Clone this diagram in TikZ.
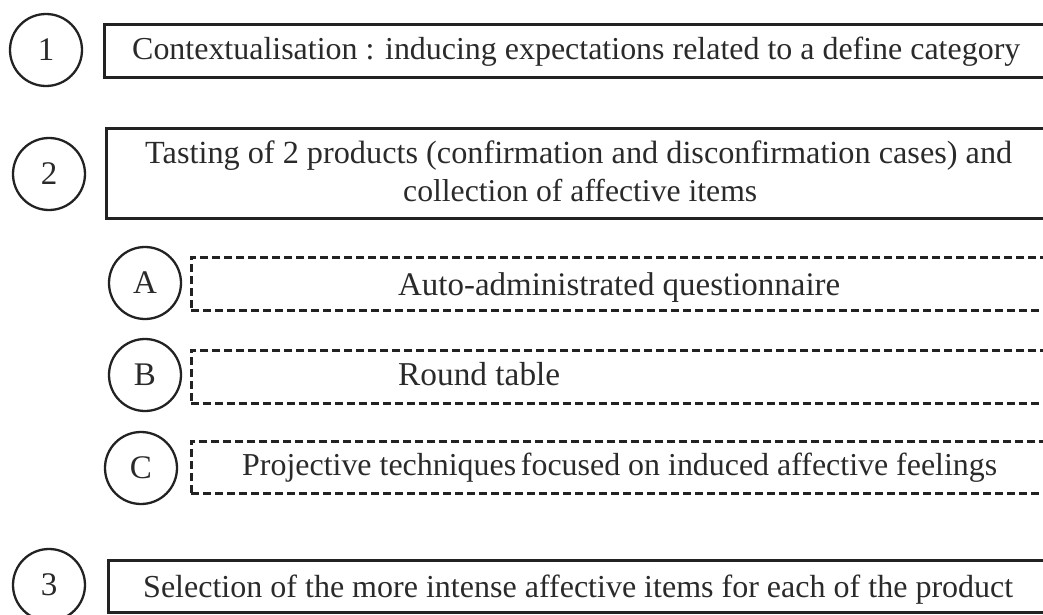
\documentclass[tikz,border=0pt]{standalone}
\usepackage{fontspec}
\usepackage{graphicx}
\setmainfont{Liberation Serif}
\definecolor{ink}{HTML}{222222}
\definecolor{txt}{HTML}{2a2a2a}
\newcommand{\fitw}[2]{\resizebox{#1}{!}{#2}}
\begin{document}
\begin{tikzpicture}[x=1pt,y=-1pt,
  numcirc/.style={circle,draw=ink,line width=2.3pt,minimum size=72pt,inner sep=0pt,text=txt,font=\fontsize{33}{34}\selectfont},
  solidbox/.style={rectangle,draw=ink,line width=2.7pt,anchor=north west,inner sep=0pt},
  dashbox/.style={rectangle,draw=ink,line width=2.5pt,dash pattern=on 8pt off 4pt,anchor=north west,inner sep=0pt},
  lbl/.style={anchor=base west,inner sep=0pt,text=txt,font=\fontsize{30}{33}\selectfont}]
\useasboundingbox (0,0) rectangle (1043,615);
% circles
\node[numcirc] (c1) at (46,50) {1};
\node[numcirc] (c2) at (49,174) {2};
\node[numcirc] (cA) at (145,283) {A};
\node[numcirc] (cB) at (145,375) {B};
\node[numcirc] (cC) at (141,468) {C};
\node[numcirc] (c3) at (49,585) {3};
% boxes
\node[solidbox,minimum width=980pt,minimum height=53pt] (b1) at (103,23) {};
\node[solidbox,minimum width=980pt,minimum height=90pt] (b2) at (105,127) {};
\node[dashbox,minimum width=900pt,minimum height=53pt] (bA) at (190,256) {};
\node[dashbox,minimum width=900pt,minimum height=53pt] (bB) at (190,349) {};
\node[dashbox,minimum width=900pt,minimum height=52pt] (bC) at (190,440) {};
\node[solidbox,minimum width=980pt,minimum height=52pt] (b3) at (107,559) {};
% texts
\node[lbl] (t1) at (132,60) {\fitw{888pt}{Contextualisation : inducing expectations related to a define category}};
\node[lbl] (t2a) at (145,163) {\fitw{867pt}{Tasting of 2 products (confirmation and disconfirmation cases) and}};
\node[lbl] (t2b) at (403,201) {\fitw{354pt}{collection of affective items}};
\node[lbl] (tA) at (398,295) {\fitw{442pt}{Auto-administrated questionnaire}};
\node[lbl] (tB) at (398,385) {\fitw{162pt}{Round table}};
\node[lbl] (tC) at (242,475) {\fitw{755pt}{Projective techniques\kern-3pt\ focused on induced affective feelings}};
\node[lbl] (t3) at (143,597) {\fitw{870pt}{Selection of the more intense affective items for each of the product}};
\end{tikzpicture}
\end{document}
